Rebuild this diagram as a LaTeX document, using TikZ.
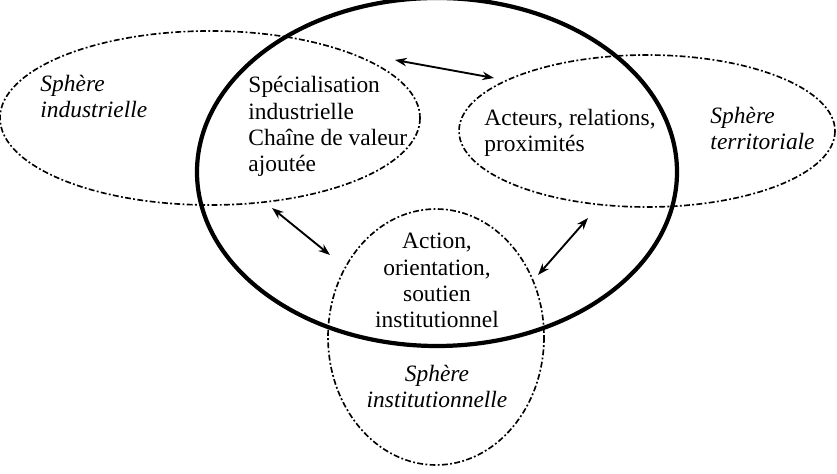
\documentclass[tikz,border=0pt]{standalone}
\usepackage{fontspec}
\setmainfont{Liberation Serif}
\usetikzlibrary{arrows.meta}
\begin{document}
\begin{tikzpicture}[x=0.015cm,y=-0.015cm,
  sphere/.style={line width=.7pt,dash pattern=on 2.5pt off 1pt on .8pt off 1pt},
  lab/.style={font=\fontsize{10}{11.3}\selectfont,inner sep=0pt},
  sph/.style={font=\fontsize{10}{11.3}\selectfont\itshape,inner sep=0pt},
  arr/.style={{Stealth[length=5pt,width=3.6pt]}-{Stealth[length=5pt,width=3.6pt]},line width=.8pt}]
\useasboundingbox (0,0) rectangle (837,474);
% the three spheres and the cluster
\draw[sphere] (210,118) ellipse [x radius=210,y radius=87];
\draw[sphere] (647,131) ellipse [x radius=188,y radius=76];
\draw[sphere] (436,337) ellipse [x radius=108,y radius=128];
\draw[line width=1.8pt] (437,172) ellipse [x radius=240,y radius=174];
% texts (anchored on the baseline of their last line)
\node[sph,anchor=base west,align=left] (ind) at (40,118) {Sphère\\industrielle};
\node[sph,anchor=base west,align=left] (ter) at (710,150) {Sphère\\territoriale};
\node[sph,anchor=base,align=center] (ins) at (437,408) {Sphère\\institutionnelle};
\node[lab,anchor=base west,align=left] (spe) at (248,172)
  {Spécialisation\\industrielle\\Chaîne de valeur\\ajoutée};
\node[lab,anchor=base west,align=left] (act) at (484,152) {Acteurs, relations,\\proximités};
\node[lab,anchor=base,align=center] (sou) at (437,328)
  {Action,\\orientation,\\soutien\\institutionnel};
% links
\coordinate (a1) at (395,60);
\coordinate (a2) at (494,78);
\coordinate (b1) at (272,208);
\coordinate (b2) at (330,255);
\coordinate (c1) at (588,218);
\coordinate (c2) at (538,275);
\draw[arr] (a1) -- (a2);
\draw[arr] (b1) -- (b2);
\draw[arr] (c1) -- (c2);
\end{tikzpicture}
\end{document}
